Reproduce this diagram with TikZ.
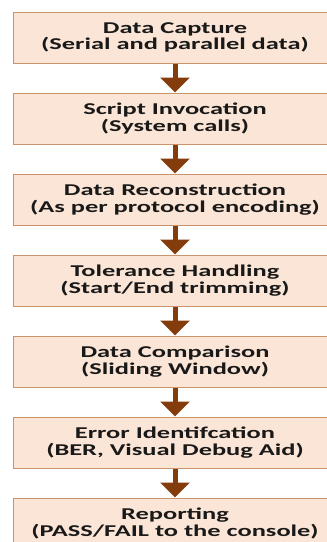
\documentclass[tikz,border=0pt]{standalone}
\usepackage{fontspec}
\setmainfont{Carlito}[FakeStretch=1.6]
\usepackage{tikz}
\usetikzlibrary{positioning,arrows.meta}
\definecolor{stagefill}{HTML}{FBE5D6}
\definecolor{stageline}{HTML}{C9946B}
\definecolor{flowbrown}{HTML}{843C0C}

\begin{document}
\begin{tikzpicture}[
    stage/.style={draw=stageline,line width=1pt,fill=stagefill,
      minimum width=324pt,minimum height=51pt,inner sep=0pt,
      align=center,text=black!90,
      font=\fontsize{16.5pt}{16.5pt}\selectfont\bfseries},
    flow/.style={draw=flowbrown,line width=5pt,
      -{Triangle[width=29pt,length=15pt,fill=flowbrown]}},
    node distance=29pt
  ]
\useasboundingbox (0pt,0pt) rectangle (327pt,-542pt);
\node[stage] (capture) at (175pt,-37.5pt) {Data Capture\\(Serial and parallel data)};
\node[stage,below=of capture] (invoke) {Script Invocation\\(System calls)};
\node[stage,below=of invoke] (rebuild) {Data Reconstruction\\(As per protocol encoding)};
\node[stage,below=of rebuild] (tolerance) {Tolerance Handling\\(Start/End trimming)};
\node[stage,below=of tolerance] (compare) {Data Comparison\\(Sliding Window)};
\node[stage,below=of compare] (errid) {Error Identifcation\\(BER, Visual Debug Aid)};
\node[stage,below=of errid] (report) {Reporting\\(PASS/FAIL to the console)};
% arrows between the stages
\draw[flow] (capture) -- (invoke);
\draw[flow] (invoke) -- (rebuild);
\draw[flow] (rebuild) -- (tolerance);
\draw[flow] (tolerance) -- (compare);
\draw[flow] (compare) -- (errid);
\draw[flow] (errid) -- (report);
\end{tikzpicture}
\end{document}
